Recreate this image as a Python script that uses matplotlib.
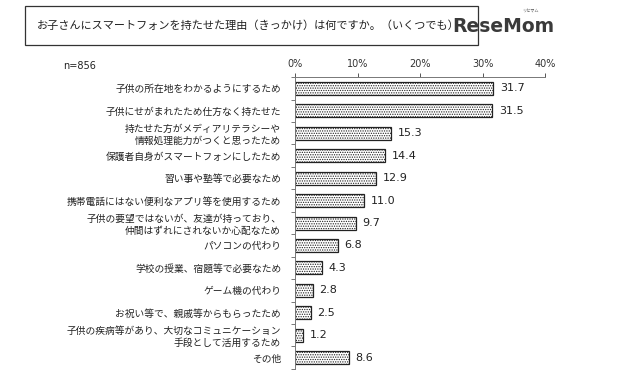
import matplotlib.pyplot as plt

plt.rcParams['font.family'] = ['Noto Sans CJK JP', 'DejaVu Sans']
plt.rcParams['hatch.linewidth'] = 0.6

labels = [
    "子供の所在地をわかるようにするため",
    "子供にせがまれたため仕方なく持たせた",
    "持たせた方がメディアリテラシーや\n情報処理能力がつくと思ったため",
    "保護者自身がスマートフォンにしたため",
    "習い事や塾等で必要なため",
    "携帯電話にはない便利なアプリ等を使用するため",
    "子供の要望ではないが、友達が持っており、\n仲間はずれにされないか心配なため",
    "パソコンの代わり",
    "学校の授業、宿題等で必要なため",
    "ゲーム機の代わり",
    "お祝い等で、親戚等からもらったため",
    "子供の疾病等があり、大切なコミュニケーション\n手段として活用するため",
    "その他",
]
values = [31.7, 31.5, 15.3, 14.4, 12.9, 11.0, 9.7, 6.8, 4.3, 2.8, 2.5, 1.2, 8.6]
xticks = [0, 10, 20, 30, 40]

fig = plt.figure(figsize=(6.4, 3.78), dpi=100)
ax = fig.add_axes([0.461, 0.024, 0.391, 0.772])

ypos = list(range(len(values)))
ax.barh(ypos, values, height=0.58, color='white', edgecolor='#222222',
        hatch='.......', linewidth=0.9)

for y, v in zip(ypos, values):
    ax.text(v + 1.1, y, f"{v:.1f}", va='center', ha='left', fontsize=8,
            color='#222222', family=['DejaVu Sans'])

ax.set_xlim(0, 40)
ax.set_ylim(len(values) - 0.5, -0.5)
ax.xaxis.tick_top()
ax.set_xticks(xticks)
ax.set_xticklabels([f"{t}%" for t in xticks], fontsize=7, family=['DejaVu Sans'],
                   color='#333333')
ax.tick_params(axis='x', direction='out', length=3, width=0.7, pad=3, colors='#555555',
               labelcolor='#333333')
ax.set_yticks([y + 0.5 for y in range(-1, len(values))], minor=False)
ax.set_yticklabels([])
ax.tick_params(axis='y', direction='out', length=3, width=0.7, colors='#777777')
ax.set_yticks(ypos, minor=True)
ax.set_yticklabels(labels, minor=True, fontsize=7, color='#222222', linespacing=1.25)
ax.tick_params(axis='y', which='minor', length=0, pad=10)
for lab in ax.get_yticklabels(minor=True):
    lab.set_horizontalalignment('right')

for s in ['right', 'bottom']:
    ax.spines[s].set_visible(False)
ax.spines['top'].set_color('#777777')
ax.spines['left'].set_color('#777777')
ax.spines['top'].set_linewidth(0.7)
ax.spines['left'].set_linewidth(0.7)

fig.text(0.098, 0.825, "n=856", fontsize=7, family=['DejaVu Sans'], color='#222222',
         va='center')

# title box
fig.patches.append(plt.Rectangle((25 / 640, 1 - 45 / 378), 453 / 640, 39 / 378,
                                 transform=fig.transFigure, fill=False,
                                 edgecolor='#333333', linewidth=0.9))
fig.text(248 / 640, 1 - 26 / 378, "お子さんにスマートフォンを持たせた理由（きっかけ）は何ですか。（いくつでも）",
         fontsize=8, ha='center', va='center', color='#222222')
# logo
fig.text(503 / 640, 1 - 27 / 378, "ReseMom", fontsize=13.5, fontweight='bold', ha='center',
         va='center', color='#3a3a3a', family=['DejaVu Sans'])
fig.text(530 / 640, 1 - 11 / 378, "リセマム", fontsize=3, ha='center', va='center',
         color='#555555')

fig.savefig("out.png", dpi=100)
